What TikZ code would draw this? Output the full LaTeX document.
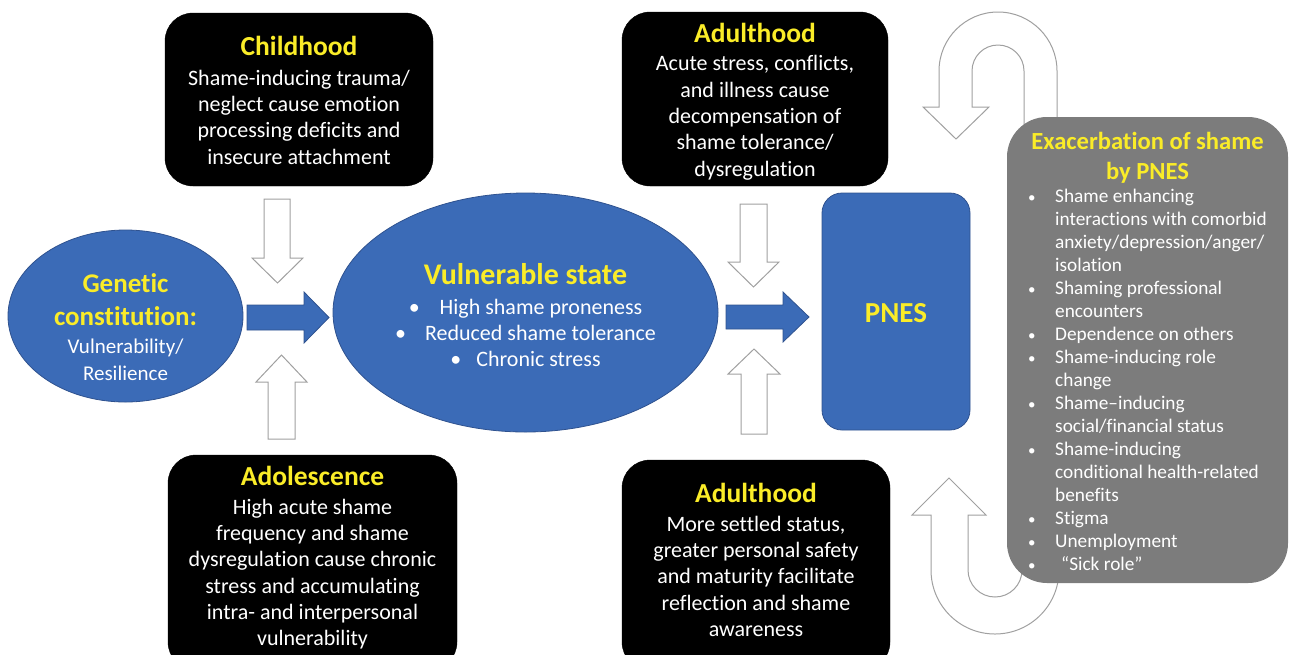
\documentclass[tikz,border=0pt]{standalone}
\usepackage{fontspec}
\setmainfont{Carlito}[Ligatures=NoCommon]
\usetikzlibrary{shapes.geometric}
\definecolor{pblue}{RGB}{59,107,183}
\definecolor{pborder}{RGB}{47,82,143}
\definecolor{pyellow}{RGB}{250,236,40}
\definecolor{pgray}{RGB}{124,124,124}
\definecolor{outl}{RGB}{160,160,160}
\newcommand\boxtitle[1]{{\fontsize{27.5}{26}\selectfont\bfseries\color{pyellow}#1}}
\newcommand\ytitle[2]{{\fontsize{#1}{27}\selectfont\bfseries\color{pyellow}#2}}
\begin{document}
\begin{tikzpicture}[x=1pt,y=-1pt,
  blackbox/.style={draw=black, fill=black, rounded corners=28pt, inner sep=0pt},
  blacktext/.style={text=white, align=center, inner sep=0pt, font=\fontsize{22}{26.3}\selectfont},
  blueshape/.style={draw=pborder, line width=0.8pt, fill=pblue, inner sep=0pt},
  bluetext/.style={text=white, align=center, inner sep=0pt, font=\fontsize{22}{26}\selectfont},
  bluearrow/.style={draw=pborder, line width=0.8pt, fill=pblue},
  outlinearrow/.style={draw=outl, line width=1pt, fill=white, line join=miter},
  graybox/.style={fill=pgray, rounded corners=40pt, inner sep=0pt},
  graytext/.style={text=white, inner sep=0pt, font=\fontsize{19.3}{23}\selectfont}]
\useasboundingbox (0,0) rectangle (1289,654);
\clip (0,0) rectangle (1289,654);

% black boxes
\node[blackbox, minimum width=268pt, minimum height=173pt] (child) at (299,99.5) {};
\node[blacktext] (childtext) at ([yshift=-1pt]child.center)
  {\boxtitle{Childhood}\\[3pt] Shame-inducing trauma/\\ neglect cause emotion\\ processing deficits and\\ insecure attachment};
\node[blackbox, minimum width=289pt, minimum height=215pt] (adol) at (312.5,562.5) {};
\node[blacktext] (adoltext) at ([yshift=4.5pt]adol.center)
  {\boxtitle{Adolescence}\\[2pt] High acute shame\\ frequency and shame\\ dysregulation cause chronic\\ stress and accumulating\\ intra- and interpersonal\\ vulnerability};
\node[blackbox, minimum width=266pt, minimum height=174pt] (adulttop) at (755,99) {};
\node[blacktext] (adulttoptext) at ([yshift=-2.5pt]adulttop.center)
  {\boxtitle{Adulthood}\\[2pt] Acute stress, conflicts,\\ and illness cause\\ decompensation of\\ shame tolerance/\\ dysregulation};
\node[blackbox, minimum width=268pt, minimum height=210pt] (adultbot) at (756,565) {};
\node[blacktext] (adultbottext) at ([yshift=5pt]adultbot.center)
  {\boxtitle{Adulthood}\\[2pt] More settled status,\\ greater personal safety\\ and maturity facilitate\\ reflection and shame\\ awareness};

% blue shapes
\node[blueshape, ellipse, minimum width=235pt, minimum height=172pt] (gen) at (125.5,316) {};
\node[bluetext, font=\fontsize{21}{27}\selectfont] (gentext) at ([yshift=-11pt]gen.center)
  {\ytitle{27}{Genetic}\\[6pt] \ytitle{27}{constitution:}\\[1pt] Vulnerability/\\ Resilience};
\node[blueshape, ellipse, minimum width=385pt, minimum height=239pt] (vuln) at (525.5,312.5) {};
\node[bluetext] (vulntext) at ([yshift=-2.5pt]vuln.center)
  {\ytitle{30}{Vulnerable state}\\[4pt]
   •\hspace{20pt}High shame proneness\\
   •\hspace{19pt}Reduced shame tolerance\\
   •\hspace{15pt}Chronic stress};
\node[blueshape, rectangle, rounded corners=20pt, minimum width=148pt, minimum height=237pt] (pnes) at (896,311.5) {};
\node[bluetext] (pnestext) at ([yshift=-2pt]pnes.center) {\ytitle{29}{PNES}};

% blue block arrows
\draw[bluearrow] (247,305) -- (304,305) -- (304,292) -- (329,317.5) -- (304,343) -- (304,330) -- (247,330) -- cycle;
\draw[bluearrow] (726,305) -- (783,305) -- (783,292) -- (809,317) -- (783,342) -- (783,329) -- (726,329) -- cycle;

% outline arrows
\draw[outlinearrow] (264,199) -- (290,199) -- (290,258) -- (303,258) -- (277.5,283) -- (252,258) -- (264,258) -- cycle;
\draw[outlinearrow] (268,439) -- (295,439) -- (295,382) -- (307,382) -- (281.5,355) -- (256,382) -- (268,382) -- cycle;
\draw[outlinearrow] (740,204) -- (767,204) -- (767,262) -- (779,262) -- (753.5,287) -- (728,262) -- (740,262) -- cycle;
\draw[outlinearrow] (741,434) -- (767,434) -- (767,374) -- (780,374) -- (754,349) -- (728,374) -- (741,374) -- cycle;

% U-turn arrows
\draw[outlinearrow] (1057,150) -- (1057,71) arc[start angle=0, end angle=-180, radius=59]
  -- (939,107) -- (923,107) -- (956,139) -- (989,107) -- (972,107) -- (972,71)
  arc[start angle=-180, end angle=0, radius=26] -- (1024,150) -- cycle;
\draw[outlinearrow] (1059,540) -- (1059,570) arc[start angle=0, end angle=180, radius=64]
  -- (931,515) -- (912,515) -- (949,478) -- (986,515) -- (968,515) -- (968,570)
  arc[start angle=180, end angle=0, radius=27] -- (1022,540) -- cycle;

% gray box
\node[graybox, minimum width=281pt, minimum height=466pt] (exac) at (1147.5,350) {};
\node[text=pyellow, inner sep=0pt, anchor=base, font=\fontsize{24.6}{30}\selectfont\bfseries] (exactitle) at (1147.5,149)
  {\begin{tabular}[t]{@{}c@{}}Exacerbation of shame\\ by PNES\end{tabular}};
\node[graytext, anchor=base west] (exaclist) at (1028,202)
  {\begin{tabular}[t]{@{}p{27pt}@{}l@{}}
  {\fontsize{15}{15}\selectfont •}&Shame enhancing\\
   &interactions with comorbid\\
   &anxiety/depression/anger/\\
   &isolation\\
  {\fontsize{15}{15}\selectfont •}&Shaming professional\\
   &encounters\\
  {\fontsize{15}{15}\selectfont •}&Dependence on others\\
  {\fontsize{15}{15}\selectfont •}&Shame-inducing role\\
   &change\\
  {\fontsize{15}{15}\selectfont •}&Shame–inducing\\
   &social/financial status\\
  {\fontsize{15}{15}\selectfont •}&Shame-inducing\\
   &conditional health-related\\
   &benefits\\
  {\fontsize{15}{15}\selectfont •}&Stigma\\
  {\fontsize{15}{15}\selectfont •}&Unemployment\\
  {\fontsize{15}{15}\selectfont •}&\hspace{6pt}“Sick role”
  \end{tabular}};
\end{tikzpicture}
\end{document}
